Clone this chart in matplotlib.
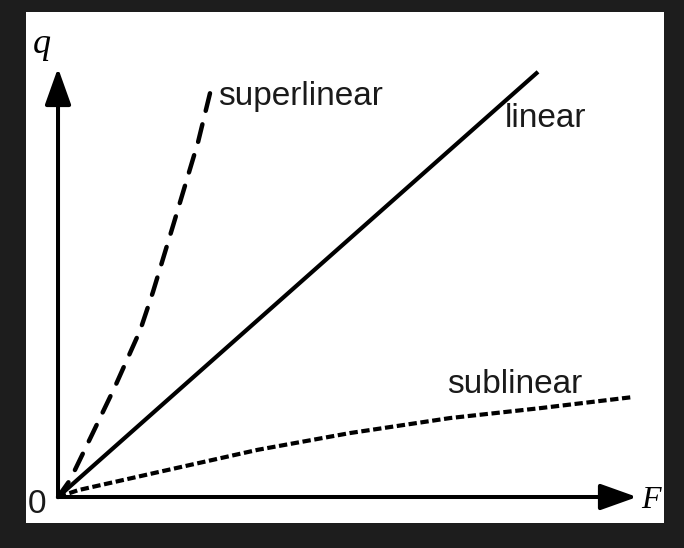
import matplotlib
matplotlib.use("Agg")
import matplotlib.pyplot as plt

plt.rcParams['lines.scale_dashes'] = False

# curves (F, q) in axis units, axis arrows end at 1
lin_F = [0.0, 0.829]
lin_q = [0.0, 0.991]

sup_F = [0.0, 0.021, 0.060, 0.098, 0.142, 0.164, 0.199, 0.242, 0.263]
sup_q = [0.0, 0.040, 0.149, 0.256, 0.389, 0.478, 0.634, 0.828, 0.944]

sub_F = [0.0, 0.035, 0.173, 0.345, 0.504, 0.677, 0.832, 0.993]
sub_q = [0.0, 0.016, 0.058, 0.110, 0.149, 0.184, 0.207, 0.233]

labels = {"superlinear": (0.276, 0.914),
          "linear": (0.772, 0.862),
          "sublinear": (0.672, 0.242)}

fig = plt.figure(figsize=(6.84, 5.48), dpi=100, facecolor='#1d1d1d')
ax = fig.add_axes([26 / 684, 25 / 548, 638 / 684, 511 / 548])
ax.set_xlim(-0.0553, 1.0466)
ax.set_ylim(-0.0606, 1.1305)
ax.axis('off')
ax.add_patch(plt.Rectangle((0, 0), 1, 1, transform=ax.transAxes,
                           facecolor='white', edgecolor='none', zorder=0))

arrow = dict(arrowstyle='-|>,head_length=1.4,head_width=0.5', mutation_scale=16,
             lw=2.9, color='black', shrinkA=0, shrinkB=0)
ax.annotate('', xy=(1.0, 0), xytext=(0, 0), arrowprops=arrow)
ax.annotate('', xy=(0, 1.0), xytext=(0, 0), arrowprops=arrow)

ax.plot(lin_F, lin_q, color='black', lw=3.0, solid_capstyle='butt')
ax.plot(sup_F, sup_q, color='black', lw=3.2, dashes=(13, 10), dash_capstyle='round',
        solid_joinstyle='round')
ax.plot(sub_F, sub_q, color='black', lw=3.0, dashes=(6, 2.6), dash_capstyle='butt',
        dash_joinstyle='round')

for name, (x, y) in labels.items():
    ax.text(x, y, name, fontsize=24, family='Liberation Sans', color='#1a1a1a',
            ha='left', va='baseline')

ax.text(-0.021, -0.037, '0', fontsize=24, family='Liberation Sans', color='#1a1a1a',
        ha='right', va='baseline')
ax.text(-0.028, 1.035, 'q', fontsize=26, family='Liberation Serif', style='italic',
        ha='center', va='baseline')
ax.text(1.007, -0.026, 'F', fontsize=23, family='Liberation Serif', style='italic',
        ha='left', va='baseline')

fig.savefig('out.png', dpi=100, facecolor=fig.get_facecolor())
